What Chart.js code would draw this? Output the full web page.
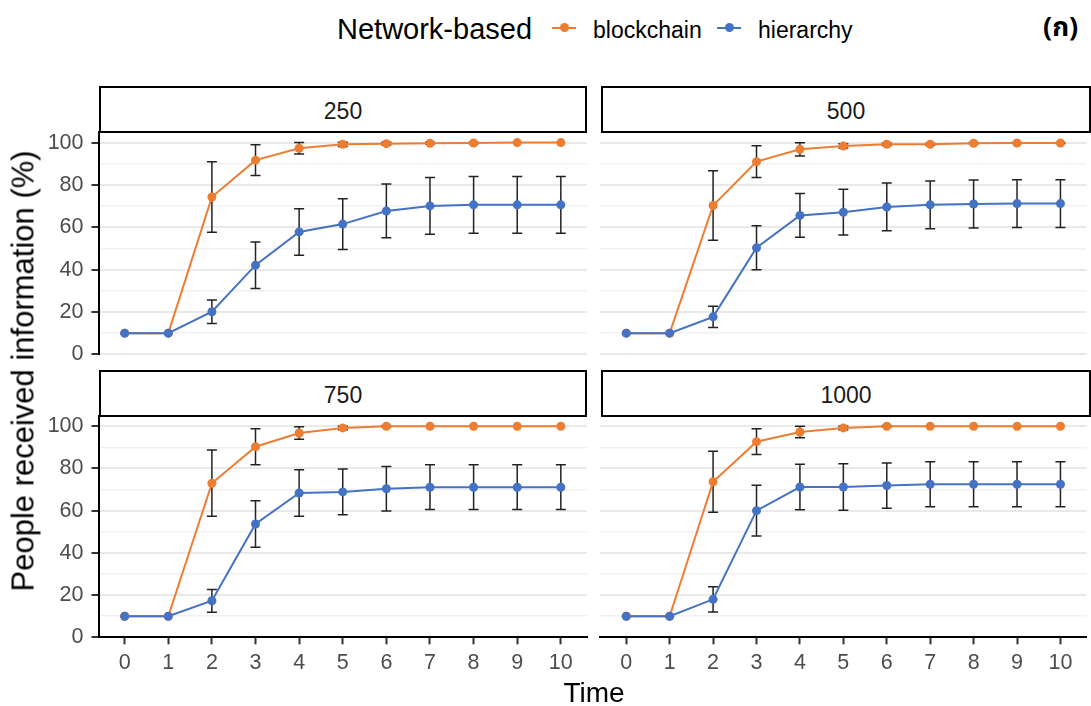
<!DOCTYPE html>
<html>
<head>
<meta charset="utf-8">
<script src="https://cdn.jsdelivr.net/npm/chart.js@4.4.1/dist/chart.umd.min.js"></script>
<style>
  html, body { margin:0; padding:0; background:#fff; }
  body { width:1091px; height:706px; position:relative; overflow:hidden;
         font-family:"Liberation Sans", Arial, "DejaVu Sans", sans-serif; }
  .strip { position:absolute; box-sizing:border-box; border:2.5px solid #000; background:#fff;
           display:flex; align-items:center; justify-content:center; font-size:23px; color:#1a1a1a;
           padding-top:4px; }
  canvas { position:absolute; }
  .txt { position:absolute; white-space:nowrap; line-height:1; }
</style>
</head>
<body>
<script>
// ---------------- DATA ----------------
const timeLabels = [0, 1, 2, 3, 4, 5, 6, 7, 8, 9, 10];
const yTickLabels = [0, 20, 40, 60, 80, 100];
const yGridValues = [0, 10, 20, 30, 40, 50, 60, 70, 80, 90, 100];
const panelTitles = ['250', '500', '750', '1000'];
const seriesNames = ['blockchain', 'hierarchy'];

const blockchain250    = [10, 10, 74.3, 91.7, 97.3, 99.2, 99.5, 99.7, 99.8, 100, 100];
const blockchain250Err = [0, 0, 16.6, 7.3, 2.7, 1.0, 0.6, 0.4, 0.3, 0, 0];
const hierarchy250     = [10, 10, 20.1, 42.1, 57.8, 61.5, 67.7, 70.1, 70.6, 70.6, 70.6];
const hierarchy250Err  = [0, 0, 5.5, 11.0, 11.0, 12.0, 12.7, 13.4, 13.4, 13.4, 13.4];

const blockchain500    = [10, 10, 70.3, 91.0, 96.8, 98.4, 99.2, 99.2, 99.7, 99.8, 99.8];
const blockchain500Err = [0, 0, 16.4, 7.5, 3.1, 1.0, 0.6, 0.4, 0.3, 0.2, 0.2];
const hierarchy500     = [10, 10, 17.7, 50.3, 65.6, 67.1, 69.6, 70.6, 71.0, 71.2, 71.2];
const hierarchy500Err  = [0, 0, 5.0, 10.4, 10.3, 10.8, 11.3, 11.3, 11.3, 11.3, 11.3];

const blockchain750    = [10, 10, 73.0, 90.3, 96.8, 99.2, 100, 100, 100, 100, 100];
const blockchain750Err = [0, 0, 15.7, 8.5, 3.0, 0.8, 0.3, 0, 0, 0, 0];
const hierarchy750     = [10, 10, 17.3, 53.7, 68.4, 68.9, 70.4, 71.1, 71.1, 71.1, 71.1];
const hierarchy750Err  = [0, 0, 5.4, 11.0, 11.0, 10.8, 10.5, 10.6, 10.6, 10.6, 10.6];

const blockchain1000    = [10, 10, 73.7, 92.7, 97.3, 99.2, 100, 100, 100, 100, 100];
const blockchain1000Err = [0, 0, 14.5, 6.1, 2.7, 0.8, 0.3, 0, 0, 0, 0];
const hierarchy1000     = [10, 10, 18.0, 60.0, 71.2, 71.2, 71.9, 72.5, 72.5, 72.5, 72.5];
const hierarchy1000Err  = [0, 0, 6.0, 12.0, 10.8, 11.0, 10.7, 10.7, 10.7, 10.7, 10.7];

// ---------------- STYLE / LAYOUT ----------------
const COLORS = { blockchain: '#ED7D31', hierarchy: '#4472C4' };
const TICK_FONT = { family: '"Liberation Sans", Arial, sans-serif', size: 21.5 };

const errorBarPlugin = {
  id: 'errorBars',
  beforeDatasetsDraw(chart) {
    const ctx = chart.ctx;
    const xs = chart.scales.x, ys = chart.scales.y;
    ctx.save();
    ctx.strokeStyle = '#222';
    ctx.lineWidth = 1.5;
    chart.data.datasets.forEach(ds => {
      (ds.errorBars || []).forEach((e, i) => {
        if (!e) return;
        const v = ds.data[i].y;
        const x = xs.getPixelForValue(ds.data[i].x);
        const yt = ys.getPixelForValue(v + e);
        const yb = ys.getPixelForValue(v - e);
        const w = 5;
        ctx.beginPath();
        ctx.moveTo(x, yt); ctx.lineTo(x, yb);
        ctx.moveTo(x - w, yt); ctx.lineTo(x + w, yt);
        ctx.moveTo(x - w, yb); ctx.lineTo(x + w, yb);
        ctx.stroke();
      });
    });
    ctx.restore();
  }
};

function el(tag, cls, style, text) {
  const d = document.createElement(tag);
  if (cls) d.className = cls;
  Object.assign(d.style, style);
  if (text !== undefined) d.textContent = text;
  document.body.appendChild(d);
  return d;
}

function makeDataset(name, vals, errs) {
  return {
    label: name,
    data: vals.map((v, i) => ({ x: timeLabels[i], y: v })),
    errorBars: errs,
    borderColor: COLORS[name],
    backgroundColor: COLORS[name],
    pointBackgroundColor: COLORS[name],
    pointBorderColor: COLORS[name],
    pointBorderWidth: 0,
    pointRadius: 4.5,
    borderWidth: 2,
    tension: 0,
    fill: false
  };
}

function makePanel(title, bVals, bErr, hVals, hErr, g) {
  el('div', 'strip', { left: g.stripLeft + 'px', top: g.stripTop + 'px',
      width: g.stripWidth + 'px', height: g.stripHeight + 'px' }, title);
  const cv = document.createElement('canvas');
  cv.width = g.w; cv.height = g.h;
  cv.style.left = g.left + 'px'; cv.style.top = g.top + 'px';
  cv.style.width = g.w + 'px'; cv.style.height = g.h + 'px';
  document.body.appendChild(cv);
  const pad = { left: 0, right: 0, top: 0, bottom: 0 };
  const chart = new Chart(cv.getContext('2d'), {
    type: 'line',
    data: { datasets: [
      makeDataset('hierarchy', hVals, hErr),
      makeDataset('blockchain', bVals, bErr)
    ] },
    options: {
      responsive: false, animation: false, devicePixelRatio: 1,
      layout: { padding: Object.assign({}, pad) },
      plugins: { legend: { display: false }, tooltip: { enabled: false } },
      scales: {
        x: {
          type: 'linear', min: -0.6, max: 10.6,
          display: g.xAxis,
          afterBuildTicks: s => { s.ticks = timeLabels.map(v => ({ value: v })); },
          afterFit: s => { s.height = g.xAxisH; },
          ticks: { color: '#4d4d4d', font: TICK_FONT, padding: 6, maxRotation: 0,
                   autoSkip: false, callback: v => String(v) },
          grid: { drawOnChartArea: false, drawTicks: true, tickLength: 7,
                  tickColor: '#333', tickWidth: 2 },
          border: { display: true, color: '#000', width: 2 }
        },
        y: {
          type: 'linear', min: 0, max: 105,
          afterBuildTicks: s => { s.ticks = yGridValues.map(v => ({ value: v })); },
          afterFit: s => { s.width = g.yAxisW; },
          ticks: { display: g.yAxis, color: '#4d4d4d', font: TICK_FONT, padding: 8,
                   autoSkip: false,
                   callback: v => yTickLabels.includes(v) ? String(v) : '' },
          grid: {
            color: c => (c.tick && yTickLabels.includes(c.tick.value)) ? '#e9e9e9' : '#f1f1f1',
            lineWidth: c => (c.tick && yTickLabels.includes(c.tick.value)) ? 2 : 1.4,
            drawTicks: g.yAxis, tickLength: 7,
            tickColor: c => (c.tick && yTickLabels.includes(c.tick.value)) ? '#333' : 'rgba(0,0,0,0)',
            tickWidth: 2
          },
          border: { display: g.yAxis, color: '#000', width: 2 }
        }
      }
    },
    plugins: [errorBarPlugin]
  });
  // adjust layout padding so the plot area lands on the target rectangle
  const tgt = { left: g.area[0] - g.left, right: g.area[1] - g.left,
                top: g.area[2] - g.top, bottom: g.area[3] - g.top };
  for (let k = 0; k < 4; k++) {
    const ca = chart.chartArea;
    pad.left += tgt.left - ca.left;
    pad.right += ca.right - tgt.right;
    pad.top += tgt.top - ca.top;
    pad.bottom += ca.bottom - tgt.bottom;
    chart.options.layout.padding = Object.assign({}, pad);
    chart.update('none');
  }
}

// plot areas: top row y 132 -> 354.3 ; bottom row y 415.7 -> 637.3
// left column x 98.5 -> 587 ; right column x 600.8 -> 1089.5
const COL_L = [98.5, 587], COL_R = [600.8, 1089.5];
const ROW_T = [132, 354.3], ROW_B = [415.7, 637.3];
makePanel(panelTitles[0], blockchain250, blockchain250Err, hierarchy250, hierarchy250Err, {
  left: 0, top: 100, w: 595, h: 285, area: [...COL_L, ...ROW_T],
  xAxis: false, yAxis: true, yAxisW: 98.5, xAxisH: 0,
  stripLeft: 99, stripTop: 86, stripWidth: 488, stripHeight: 47
});
makePanel(panelTitles[1], blockchain500, blockchain500Err, hierarchy500, hierarchy500Err, {
  left: 595, top: 100, w: 496, h: 285, area: [...COL_R, ...ROW_T],
  xAxis: false, yAxis: false, yAxisW: 0, xAxisH: 0,
  stripLeft: 601, stripTop: 86, stripWidth: 490, stripHeight: 47
});
makePanel(panelTitles[2], blockchain750, blockchain750Err, hierarchy750, hierarchy750Err, {
  left: 0, top: 386, w: 595, h: 320, area: [...COL_L, ...ROW_B],
  xAxis: true, yAxis: true, yAxisW: 98.5, xAxisH: 68.7,
  stripLeft: 99, stripTop: 370, stripWidth: 488, stripHeight: 47
});
makePanel(panelTitles[3], blockchain1000, blockchain1000Err, hierarchy1000, hierarchy1000Err, {
  left: 595, top: 386, w: 496, h: 320, area: [...COL_R, ...ROW_B],
  xAxis: true, yAxis: false, yAxisW: 0, xAxisH: 68.7,
  stripLeft: 601, stripTop: 370, stripWidth: 490, stripHeight: 47
});

// ---------------- TEXT: titles & legend ----------------
el('div', 'txt', { left: '0px', top: '679px', width: '1188px', textAlign: 'center',
   fontSize: '28px', color: '#000' }, 'Time');
el('div', 'txt', { left: '23px', top: '371px', fontSize: '31px', color: '#000',
   transform: 'translate(-50%, -50%) rotate(-90deg)' }, 'People received information (%)');

el('div', 'txt', { left: '337px', top: '15px', fontSize: '29px', color: '#000' }, 'Network-based');
function legendItem(name, cx, textX) {
  el('div', '', { position: 'absolute', left: (cx - 12) + 'px', top: '26.5px', width: '24px',
     height: '2px', background: COLORS[name] });
  el('div', '', { position: 'absolute', left: (cx - 4.5) + 'px', top: '23px', width: '9px',
     height: '9px', borderRadius: '50%', background: COLORS[name] });
  el('div', 'txt', { left: textX + 'px', top: '19px', fontSize: '23px', color: '#000' }, name);
}
legendItem(seriesNames[0], 564, 593);
legendItem(seriesNames[1], 729, 758);

el('div', 'txt', { left: '1043px', top: '14px', fontSize: '27px', fontWeight: 'bold', color: '#000',
   fontFamily: '"Noto Sans Thai", "Noto Sans", "DejaVu Sans", sans-serif' }, '(ก)');
</script>
</body>
</html>
